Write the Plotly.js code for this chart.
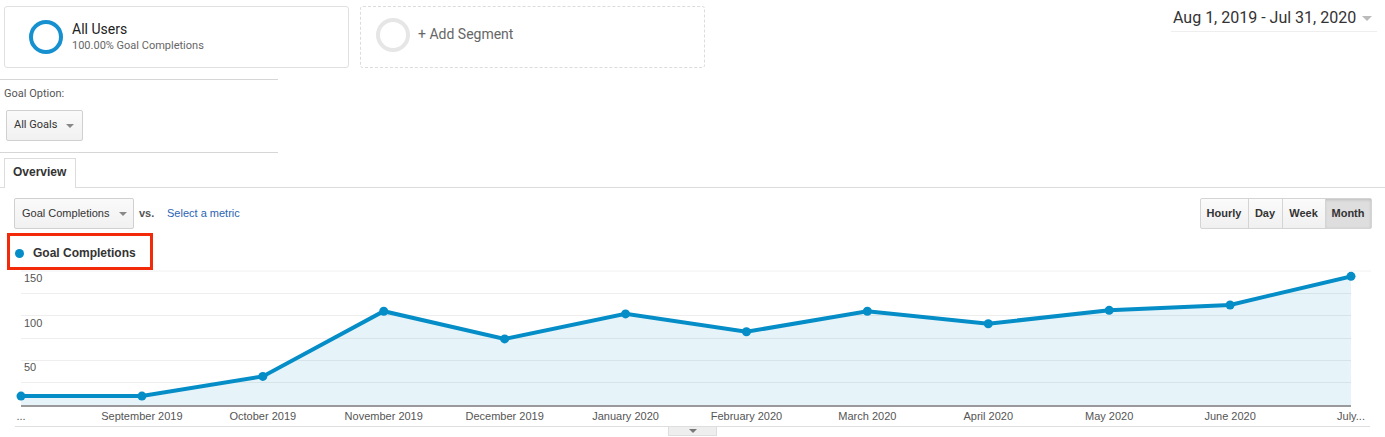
<!DOCTYPE html>
<html>
<head>
<meta charset="utf-8">
<script src="https://cdn.plot.ly/plotly-3.0.1.min.js"></script>
<style>
  html, body { margin:0; padding:0; background:#fff; }
  body { width:1385px; height:437px; overflow:hidden; position:relative; font-family: Roboto, "Liberation Sans", Arial, sans-serif; }
  #chart { position:absolute; left:0; top:0; width:1385px; height:437px; }
  .abs { position:absolute; box-sizing:border-box; }
  .seg { border:1px solid #e0e0e0; border-radius:3px; }
  .ring { border-radius:50%; box-sizing:border-box; }
  .tri { width:0; height:0; border-left:4px solid transparent; border-right:4px solid transparent; border-top:4px solid #888; }
  .btn { background:linear-gradient(#fafafa,#f1f1f1); border:1px solid #d0d0d0; border-radius:2px; }
  .hline { height:1px; background:#d6d6d6; }
  .arial { font-family:"Liberation Sans", Arial, sans-serif; }
</style>
</head>
<body>
<div id="chart"></div>

<!-- Segment boxes -->
<div class="abs seg" style="left:4px;top:6px;width:345px;height:62px;"></div>
<div class="abs ring" style="left:29px;top:20px;width:34px;height:34px;border:4px solid #1790d0;"></div>
<div class="abs" style="left:72px;top:21px;font-size:14px;color:#222;">All Users</div>
<div class="abs" style="left:72px;top:39px;font-size:11px;color:#666;">100.00% Goal Completions</div>

<div class="abs" style="left:360px;top:6px;width:345px;height:62px;border:1px dashed #dcdcdc;border-radius:3px;"></div>
<div class="abs ring" style="left:376px;top:18px;width:34px;height:34px;border:4px solid #e6e6e6;"></div>
<div class="abs" style="left:418px;top:26px;font-size:14px;color:#666;">+ Add Segment</div>

<!-- Date range -->
<div class="abs" style="left:1173px;top:8px;font-size:16px;color:#333;">Aug 1, 2019 - Jul 31, 2020</div>
<div class="abs tri" style="left:1362px;top:16px;border-top-color:#bbb;border-left-width:5px;border-right-width:5px;border-top-width:5px;"></div>
<div class="abs" style="left:1171px;top:31px;width:206px;height:1px;background:#eee;"></div>

<!-- Goal option -->
<div class="abs hline" style="left:0;top:79px;width:278px;"></div>
<div class="abs" style="left:4px;top:87px;font-size:11px;color:#555;">Goal Option:</div>
<div class="abs btn" style="left:6px;top:110px;width:77px;height:31px;"></div>
<div class="abs" style="left:14px;top:118px;font-size:11px;color:#333;">All Goals</div>
<div class="abs tri" style="left:66px;top:124px;"></div>
<div class="abs hline" style="left:0;top:152px;width:278px;"></div>

<!-- Overview tab -->
<div class="abs" style="left:0;top:187px;width:1385px;height:1px;background:#dcdcdc;"></div>
<div class="abs" style="left:4px;top:158px;width:72px;height:30px;border:1px solid #dcdcdc;border-bottom:none;background:#fff;"></div>
<div class="abs arial" style="left:13px;top:165px;font-size:12px;font-weight:bold;color:#333;">Overview</div>

<!-- Metric selector -->
<div class="abs btn" style="left:14px;top:198px;width:120px;height:31px;"></div>
<div class="abs arial" style="left:22px;top:207px;font-size:11px;color:#333;">Goal Completions</div>
<div class="abs tri" style="left:119px;top:212px;"></div>
<div class="abs arial" style="left:139px;top:207px;font-size:11px;font-weight:bold;color:#555;">vs.</div>
<div class="abs arial" style="left:167px;top:207px;font-size:11px;color:#2a64b4;">Select a metric</div>

<!-- Period buttons -->
<div class="abs" style="left:1200px;top:198px;width:172px;height:31px;border:1px solid #d4d4d4;border-radius:2px;background:linear-gradient(#fbfbfb,#f0f0f0);"></div>
<div class="abs" style="left:1325px;top:199px;width:46px;height:29px;background:#dedede;box-shadow: inset 0 1px 3px rgba(0,0,0,0.15);"></div>
<div class="abs" style="left:1248px;top:199px;width:1px;height:29px;background:#d4d4d4;"></div>
<div class="abs" style="left:1282px;top:199px;width:1px;height:29px;background:#d4d4d4;"></div>
<div class="abs" style="left:1325px;top:199px;width:1px;height:29px;background:#d4d4d4;"></div>
<div class="abs arial" style="left:1200px;top:207px;width:48px;text-align:center;font-size:11px;font-weight:bold;color:#333;">Hourly</div>
<div class="abs arial" style="left:1248px;top:207px;width:34px;text-align:center;font-size:11px;font-weight:bold;color:#333;">Day</div>
<div class="abs arial" style="left:1282px;top:207px;width:43px;text-align:center;font-size:11px;font-weight:bold;color:#333;">Week</div>
<div class="abs arial" style="left:1325px;top:207px;width:46px;text-align:center;font-size:11px;font-weight:bold;color:#333;">Month</div>

<!-- Legend with red highlight -->
<div class="abs" style="left:7px;top:233px;width:146px;height:37px;border:3px solid #f22a0a;"></div>
<div class="abs" style="left:15px;top:249px;width:9px;height:9px;border-radius:50%;background:#058dc7;"></div>
<div class="abs arial" style="left:33px;top:246px;font-size:12px;font-weight:bold;color:#333;">Goal Completions</div>

<!-- Bottom rule and tab -->
<div class="abs" style="left:15px;top:426px;width:1355px;height:1px;background:#dedede;"></div>
<div class="abs" style="left:668px;top:427px;width:49px;height:9px;background:#eee;border:1px solid #ddd;border-top:none;"></div>
<div class="abs tri" style="left:689px;top:429px;border-top-color:#777;"></div>

<script>
// Data
var months = ["August 2019","September 2019","October 2019","November 2019","December 2019","January 2020",
              "February 2020","March 2020","April 2020","May 2020","June 2020","July 2020"];
var monthLabels = ["...","September 2019","October 2019","November 2019","December 2019","January 2020",
                   "February 2020","March 2020","April 2020","May 2020","June 2020","July..."];
var goalCompletions = [10, 10, 32, 105, 74, 102, 82, 105, 91, 106, 112, 144];
var yTickVals = [0, 25, 50, 75, 100, 125, 150];
var yTickText = ["", "", "50", "", "100", "", "150"];

var trace = {
  x: months,
  y: goalCompletions,
  type: "scatter",
  mode: "lines+markers",
  fill: "tozeroy",
  fillcolor: "rgba(5,141,199,0.1)",
  line: { color: "#058dc7", width: 4 },
  marker: { color: "#058dc7", size: 9 },
  cliponaxis: false,
  hoverinfo: "x+y",
  name: "Goal Completions"
};

var layout = {
  width: 1385,
  height: 437,
  margin: { l: 21, r: 34, t: 271, b: 32, pad: 0 },
  paper_bgcolor: "rgba(0,0,0,0)",
  plot_bgcolor: "rgba(0,0,0,0)",
  showlegend: false,
  font: { family: "Liberation Sans, Arial, sans-serif", size: 11, color: "#555" },
  xaxis: {
    type: "category",
    range: [0, months.length - 1],
    tickmode: "array",
    tickvals: months,
    ticktext: monthLabels,
    showgrid: false,
    zeroline: false,
    showline: true,
    linecolor: "#9a9a9a",
    linewidth: 2,
    ticks: "",
    ticklabeloverflow: "allow",
    tickfont: { size: 11, color: "#555" },
    fixedrange: true
  },
  yaxis: {
    range: [0, 150],
    side: "right",
    anchor: "free",
    position: 0,
    tickmode: "array",
    tickvals: yTickVals,
    ticktext: yTickText,
    showgrid: true,
    gridcolor: "#eeeeee",
    gridwidth: 1,
    zeroline: false,
    showline: false,
    ticks: "",
    ticklabelstandoff: 2,
    ticklabelshift: 7,
    tickfont: { size: 11, color: "#555" },
    fixedrange: true
  },
  shapes: [
    { type: "line", xref: "paper", yref: "paper", x0: 0, x1: 1.015, y0: 1, y1: 1,
      line: { color: "#f0f0f0", width: 1 }, layer: "below" }
  ]
};

Plotly.newPlot("chart", [trace], layout, { displayModeBar: false });
</script>
</body>
</html>
